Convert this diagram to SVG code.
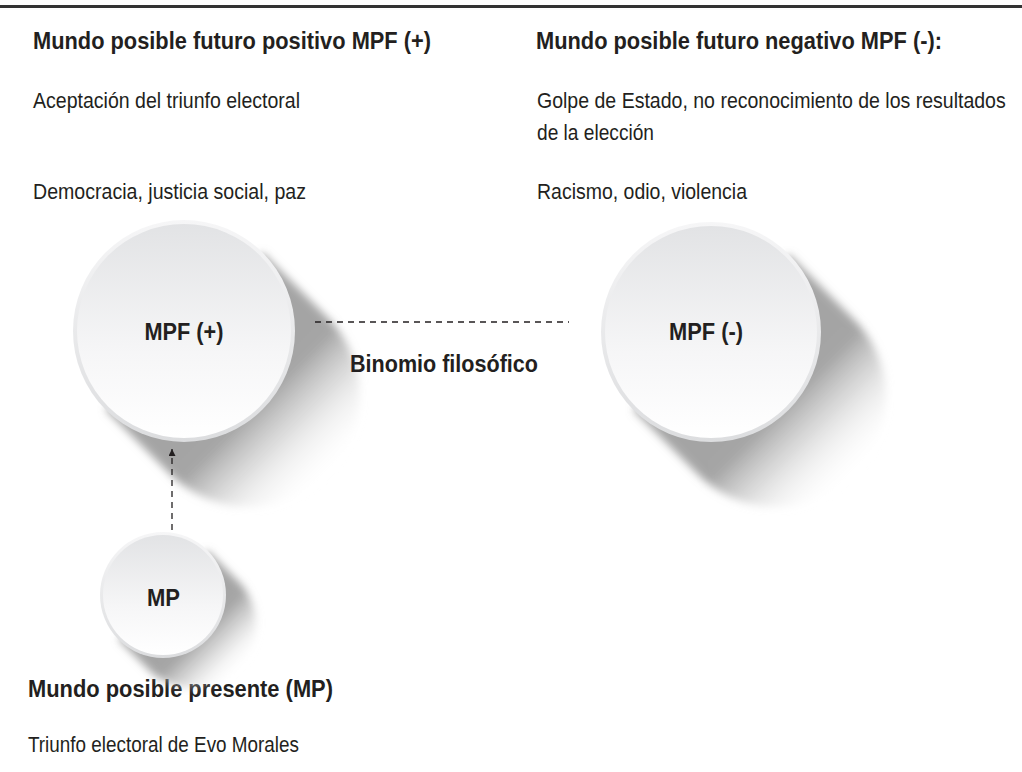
<svg xmlns="http://www.w3.org/2000/svg" width="1022" height="772" viewBox="0 0 1022 772">
<defs>
<style>
.t{font-family:"Liberation Sans",Arial,sans-serif;fill:#231f20;font-size:22.5px}
.b{font-weight:bold;font-size:23.5px}
.dash{stroke:#231f20;stroke-width:1.3;stroke-dasharray:6 5;fill:none}
</style>
<linearGradient id="rim" x1="0" y1="0" x2="0" y2="1">
<stop offset="0" stop-color="#f6f6f7"/>
<stop offset="1" stop-color="#dcdddf"/>
</linearGradient>
<linearGradient id="face" x1="0" y1="0" x2="0" y2="1">
<stop offset="0" stop-color="#e2e3e5"/>
<stop offset="0.6" stop-color="#f6f6f7"/>
<stop offset="1" stop-color="#ffffff"/>
</linearGradient>
<linearGradient id="sh1" gradientUnits="userSpaceOnUse" x1="184" y1="331" x2="329.5" y2="476.5">
<stop offset="0.5" stop-color="#8e8e8e" stop-opacity="0.8"/>
<stop offset="0.68" stop-color="#b8b8b8" stop-opacity="0.55"/>
<stop offset="1" stop-color="#ffffff" stop-opacity="0"/>
</linearGradient>
<linearGradient id="sh2" gradientUnits="userSpaceOnUse" x1="711" y1="332" x2="855.8" y2="476.8">
<stop offset="0.5" stop-color="#8e8e8e" stop-opacity="0.8"/>
<stop offset="0.68" stop-color="#b8b8b8" stop-opacity="0.55"/>
<stop offset="1" stop-color="#ffffff" stop-opacity="0"/>
</linearGradient>
<linearGradient id="sh3" gradientUnits="userSpaceOnUse" x1="163" y1="595" x2="239.5" y2="671.5">
<stop offset="0.5" stop-color="#8e8e8e" stop-opacity="0.8"/>
<stop offset="0.7" stop-color="#b8b8b8" stop-opacity="0.55"/>
<stop offset="1" stop-color="#ffffff" stop-opacity="0"/>
</linearGradient>
<filter id="blur" x="-20%" y="-20%" width="140%" height="140%">
<feGaussianBlur stdDeviation="4"/>
</filter>
<marker id="arr" viewBox="0 0 10 10" refX="10" refY="5" markerWidth="7" markerHeight="7" orient="auto" markerUnits="userSpaceOnUse">
<path d="M0,0 L10,5 L0,10 Z" fill="#231f20"/>
</marker>
</defs>
<rect width="1022" height="772" fill="#ffffff"/>
<line x1="0" y1="6.5" x2="1022" y2="6.5" stroke="#333333" stroke-width="3"/>

<g id="text-left">
<text class="t b" x="33" y="49" textLength="398" lengthAdjust="spacingAndGlyphs">Mundo posible futuro positivo MPF (+)</text>
<text class="t" x="33" y="108" textLength="267" lengthAdjust="spacingAndGlyphs">Aceptación del triunfo electoral</text>
<text class="t" x="33" y="199" textLength="273" lengthAdjust="spacingAndGlyphs">Democracia, justicia social, paz</text>
</g>
<g id="text-right">
<text class="t b" x="536" y="49" textLength="406" lengthAdjust="spacingAndGlyphs">Mundo posible futuro negativo MPF (-):</text>
<g transform="translate(537,108) scale(0.868,1)">
<text class="t" x="0" y="0" textLength="540" lengthAdjust="spacingAndGlyphs">Golpe de Estado, no reconocimiento de los resultados</text>
</g>
<text class="t" x="537" y="140" textLength="117" lengthAdjust="spacingAndGlyphs">de la elección</text>
<text class="t" x="537" y="199" textLength="210" lengthAdjust="spacingAndGlyphs">Racismo, odio, violencia</text>
</g>
<g id="text-bottom">
<text class="t b" x="28" y="697" textLength="305" lengthAdjust="spacingAndGlyphs">Mundo posible presente (MP)</text>
<text class="t" x="28" y="752" textLength="271" lengthAdjust="spacingAndGlyphs">Triunfo electoral de Evo Morales</text>
</g>

<g id="node-mpf-plus">
<path d="M262.5 252.5 L327.5 317.5 A111 111 0 0 1 170.5 474.5 L105.5 409.5 Z" fill="url(#sh1)" filter="url(#blur)"/>
<circle cx="184" cy="331" r="111" fill="url(#rim)"/>
<circle cx="184" cy="331" r="107" fill="url(#face)"/>
<text class="t b" x="184" y="340" text-anchor="middle" textLength="79" lengthAdjust="spacingAndGlyphs">MPF (+)</text>
</g>
<g id="node-mpf-minus">
<path d="M788.8 254.2 L853.8 319.2 A110 110 0 0 1 698.2 474.8 L633.2 409.8 Z" fill="url(#sh2)" filter="url(#blur)"/>
<circle cx="711" cy="332" r="110" fill="url(#rim)"/>
<circle cx="711" cy="332" r="106" fill="url(#face)"/>
<text class="t b" x="706" y="340" text-anchor="middle" textLength="74" lengthAdjust="spacingAndGlyphs">MPF (-)</text>
</g>
<g id="node-mp">
<path d="M207.5 550.5 L239.5 582.5 A63 63 0 0 1 150.5 671.5 L118.5 639.5 Z" fill="url(#sh3)" filter="url(#blur)"/>
<circle cx="163" cy="595" r="63" fill="url(#rim)"/>
<circle cx="163" cy="595" r="60" fill="url(#face)"/>
<text class="t b" x="163.5" y="606" text-anchor="middle" textLength="33" lengthAdjust="spacingAndGlyphs">MP</text>
</g>

<g id="connectors">
<line class="dash" x1="315" y1="322" x2="569" y2="322"/>
<line class="dash" x1="172" y1="530" x2="172" y2="449" marker-end="url(#arr)"/>
<text class="t b" x="350" y="372" textLength="188" lengthAdjust="spacingAndGlyphs">Binomio filosófico</text>
</g>
</svg>
